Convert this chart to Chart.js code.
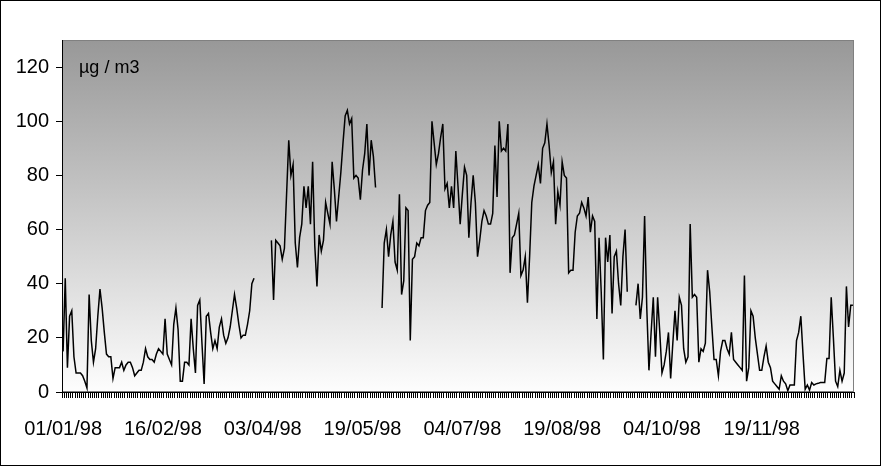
<!DOCTYPE html>
<html>
<head>
<meta charset="utf-8">
<script src="https://cdn.jsdelivr.net/npm/chart.js@4/dist/chart.umd.min.js"></script>
<style>
  body { margin: 0; background: #fff; }
  canvas { display: block; }
</style>
</head>
<body>
<canvas id="myChart" width="881" height="466"></canvas>
<script>
// daily concentrations 1998 (µg / m3), null = missing day
const valores = [
  15, 42, 9, 28, 30, 13, 7, 7, 7, 6,
  4, 1.5, 36, 19, 11, 16, 28, 38, 31, 22,
  14, 13, 13, 5, 9, 9, 9, 11, 8, 10,
  11, 11, 9, 6, 7, 8, 8, 11, 16, 13,
  12, 12, 11, 14, 16, 15, 14, 27, 14, 12,
  10, 25, 31, 23, 4, 4, 11, 11, 10, 27,
  16, 7, 32, 34, 18, 3, 28, 29, 22, 16,
  19, 16, 24, 27, 21, 18, 20, 24, 30, 36,
  31, 25, 20, 21, 21, 25, 30, 40, 42, null,
  null, null, null, null, null, null, 56, 34, 56, 55,
  54, 49, 53, 73, 93, 80, 84, 55, 46, 57,
  62, 76, 68, 76, 62, 85, 54, 39, 58, 52,
  56, 70, 66, 62, 85, 75, 63, 72, 81, 92,
  102, 104, 99, 101, 79, 80, 79, 71, 82, 88,
  99, 80, 93, 87, 75.5, null, null, 31, 55, 60,
  50, 58, 63, 48, 45, 73, 36, 41, 68, 67,
  19, 49, 50, 55, 54, 57, 57, 67, 69, 70,
  100, 92, 84, 88, 94, 99, 75, 77, 68, 76,
  68, 89, 76, 62, 73, 83, 80, 57, 70, 80,
  70, 50, 56, 63, 67, 65, 62, 62, 66, 91,
  72, 100, 89, 90, 89, 99, 44, 57, 58, 62,
  66, 43, 45, 50, 33, 50, 70, 76, 80, 84,
  77, 90, 92, 99, 91, 81, 85, 62, 74, 69,
  85, 80, 79, 44, 45, 45, 59, 65, 66, 70,
  68, 65, 72, 59, 65, 63, 27, 57, 37, 12,
  57, 48, 58, 29, 50, 52, 40, 32, 50, 60,
  37, null, null, null, 32, 40, 27, 35, 65, 31,
  8, 22, 35, 13, 35, 22, 7, 10, 15, 22,
  5, 18, 30, 19, 35, 32, 16, 11, 13, 62,
  35, 36, 35, 11, 16, 15, 18, 45, 37, 24,
  12, 12, 6, 15, 19, 19, 16, 14, 22, 12,
  11, 10, 9, 8, 43, 4, 9, 30, 28, 20,
  14, 8, 8, 13, 17, 11, 9, 4, 3, 2,
  1, 6, 4, 3, 0.5, 2.6, 2.6, 2.6, 19, 22,
  28, 14, 1, 2.6, 0.7, 3.5, 2.6, 3, 3.2, 3.5,
  3.5, 3.5, 12.4, 12.4, 35, 20, 4, 2, 8, 4,
  7, 39, 24, 32, 32
];

// x labels shown every 46 days
const rotulosX = ['01/01/98', '16/02/98', '03/04/98', '19/05/98', '04/07/98', '19/08/98', '04/10/98', '19/11/98'];
const passoRotulo = 46;

// one category per day of 1998
const dias = [];
for (let d = new Date(1998, 0, 1); d.getFullYear() === 1998; d.setDate(d.getDate() + 1)) {
  const dd = String(d.getDate()).padStart(2, '0');
  const mm = String(d.getMonth() + 1).padStart(2, '0');
  dias.push(dd + '/' + mm + '/98');
}

const fonte = '"Liberation Sans", Arial, sans-serif';

// gradient plot background + borders + unit text
const fundo = {
  id: 'fundo',
  beforeDraw(chart) {
    const { ctx, chartArea: a } = chart;
    ctx.save();
    const g = ctx.createLinearGradient(0, a.top, 0, a.bottom);
    g.addColorStop(0, '#989898');
    g.addColorStop(1, '#fdfdfd');
    ctx.fillStyle = g;
    ctx.fillRect(a.left, a.top, a.width, a.height);
    ctx.strokeStyle = '#808080';
    ctx.lineWidth = 1;
    ctx.strokeRect(a.left + 0.5, a.top + 0.5, a.width - 1, a.height - 1);
    ctx.strokeStyle = '#000';
    ctx.strokeRect(0.5, 0.5, chart.width - 1, chart.height - 1);
    ctx.restore();
  },
  afterDraw(chart) {
    const { ctx, chartArea: a } = chart;
    ctx.save();
    ctx.font = '18px ' + fonte;
    ctx.fillStyle = '#000';
    ctx.textBaseline = 'middle';
    ctx.fillText('µg / m3', a.left + 17, a.top + 28);
    ctx.restore();
  }
};

const ctx = document.getElementById('myChart').getContext('2d');
new Chart(ctx, {
  type: 'line',
  data: {
    labels: dias,
    datasets: [{
      data: valores,
      borderColor: '#000',
      borderWidth: 1.5,
      pointRadius: 0,
      tension: 0,
      spanGaps: false
    }]
  },
  options: {
    responsive: false,
    animation: false,
    layout: { padding: { left: 0, top: 40, right: 27, bottom: 20 } },
    plugins: { legend: { display: false }, tooltip: { enabled: false } },
    scales: {
      x: {
        offset: true,
        afterFit: s => { s.height = 54; },
        grid: { drawOnChartArea: false, drawTicks: true, tickLength: 6, color: '#000', offset: true },
        border: { display: true, color: '#000', width: 1 },
        ticks: {
          autoSkip: false,
          maxRotation: 0,
          minRotation: 0,
          padding: 19,
          color: '#000',
          font: { family: fonte, size: 20 },
          callback: (v, i) => (i % passoRotulo === 0 ? rotulosX[i / passoRotulo] : '')
        }
      },
      y: {
        min: 0,
        max: 130,
        afterFit: s => { s.width = 62; },
        afterBuildTicks: s => { s.ticks = s.ticks.filter(t => t.value <= 120); },
        grid: { drawOnChartArea: false, drawTicks: true, tickLength: 6, color: '#000' },
        border: { display: true, color: '#000', width: 1 },
        ticks: {
          stepSize: 20,
          padding: 7,
          color: '#000',
          font: { family: fonte, size: 20 }
        }
      }
    }
  },
  plugins: [fundo]
});
</script>
</body>
</html>
